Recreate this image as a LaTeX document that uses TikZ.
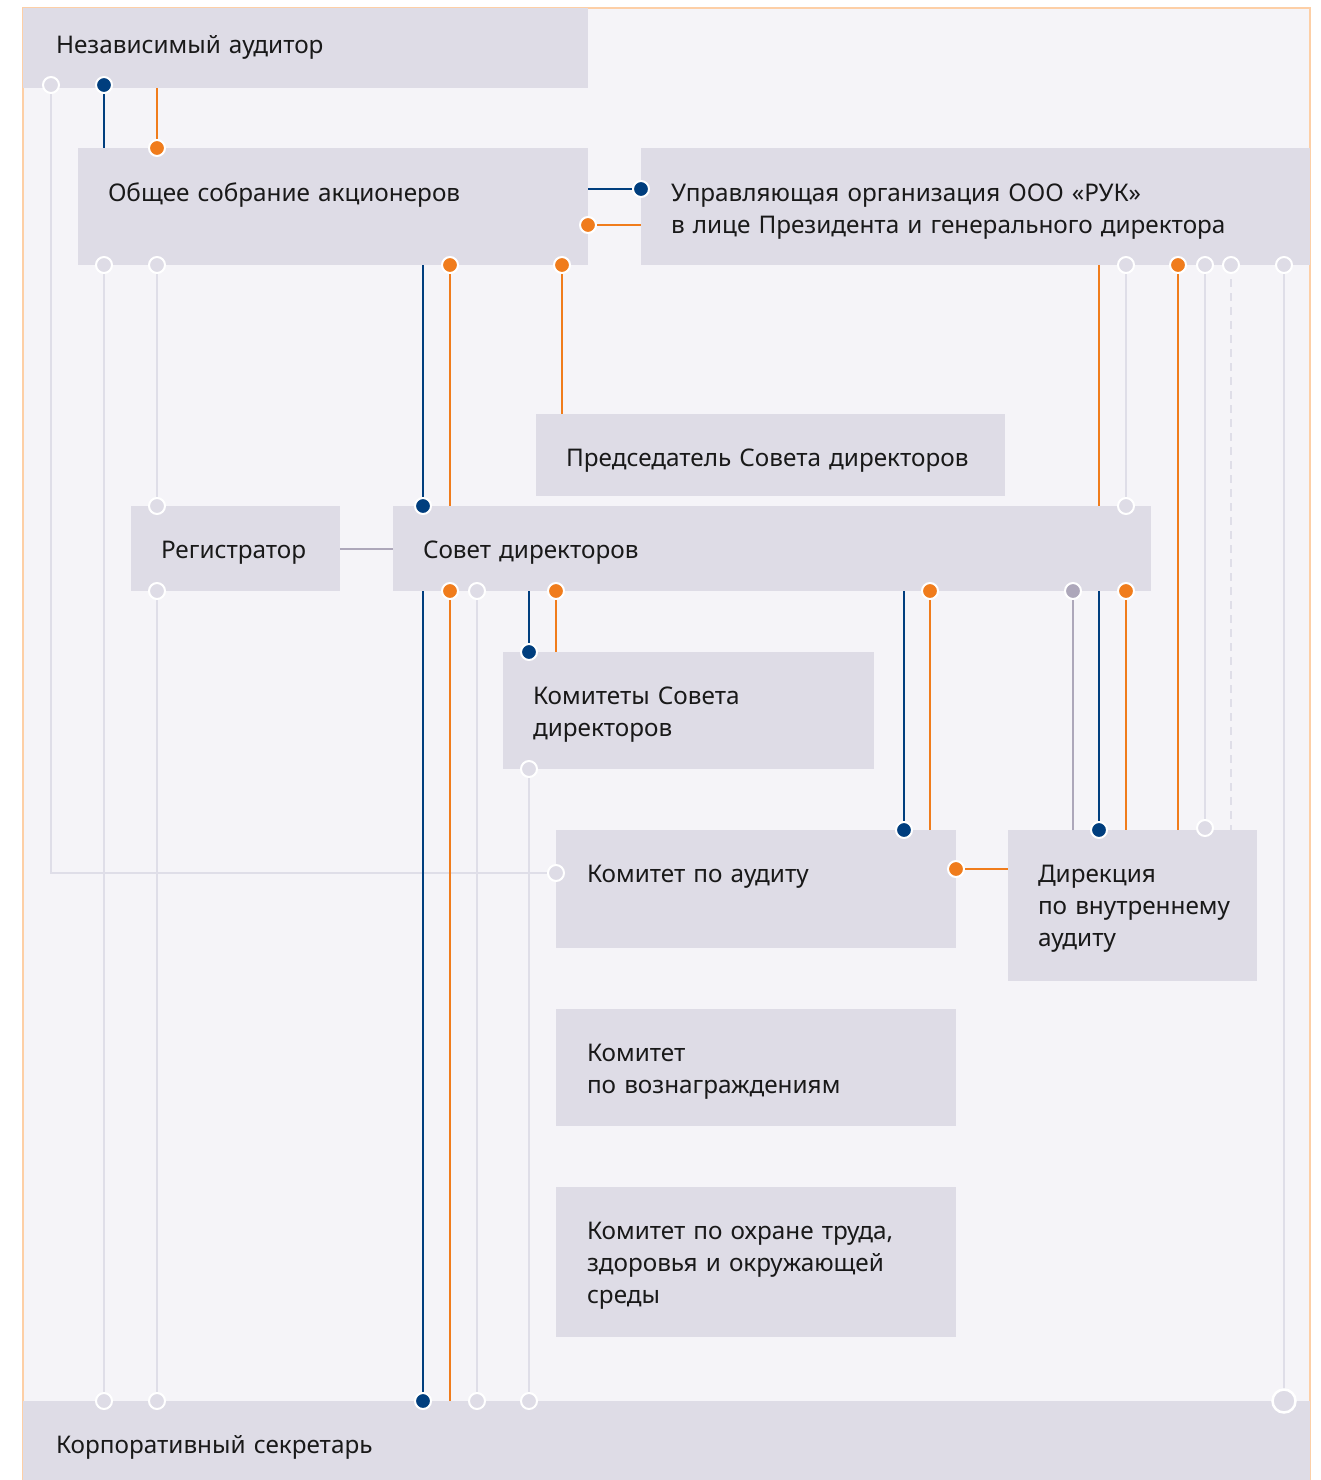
\documentclass[tikz,border=0pt]{standalone}
\usepackage{fontspec}
\setmainfont{Noto Sans}
\definecolor{cBg}{HTML}{F5F4F8}
\definecolor{cBox}{HTML}{DEDCE6}
\definecolor{cFrame}{HTML}{FDCFA6}
\definecolor{cB}{HTML}{003E7E}
\definecolor{cO}{HTML}{F07C1C}
\definecolor{cL}{HTML}{DFDEE8}
\definecolor{cP}{HTML}{ADA7BA}
\tikzset{
  box/.style={rectangle, fill=cBox, anchor=north west, inner sep=0, outer sep=0},
  lbl/.style={anchor=base west, inner sep=0, outer sep=0, text width=700pt, align=left,
    font=\fontsize{24.3}{32}\selectfont, text=black!90},
  dot/.style={circle, inner sep=0, outer sep=0, minimum size=16pt, draw=white, line width=2pt},
  dB/.style={dot, fill=cB}, dO/.style={dot, fill=cO}, dL/.style={dot, fill=cBox}, dP/.style={dot, fill=cP},
  dBig/.style={dot, fill=cBox, minimum size=23pt, line width=2.5pt},
  lB/.style={draw=cB, line width=2.5pt},
  lO/.style={draw=cO, line width=2.5pt},
  lL/.style={draw=cL, line width=2pt},
  lLd/.style={draw=cL, line width=2pt, dash pattern=on 8pt off 6pt},
  lP/.style={draw=cP, line width=2.5pt},
}
\begin{document}
\begin{tikzpicture}[x=1pt,y=-1pt]
\useasboundingbox (0,0) rectangle (1320,1480);
\fill[white] (0,0) rectangle (1320,1480);
\fill[cBg] (23,8) rectangle (1310,1480);
\draw[cFrame, line width=2pt] (23,1490) -- (23,8) -- (1310,8) -- (1310,1490);

% boxes
\node[box, minimum width=565pt, minimum height=80pt] (aud) at (23,8) {};
\node[box, minimum width=510pt, minimum height=117pt] (gms) at (78,148) {};
\node[box, minimum width=669pt, minimum height=117pt] (upr) at (641,148) {};
\node[box, minimum width=469pt, minimum height=82pt] (pred) at (536,414) {};
\node[box, minimum width=209pt, minimum height=85pt] (reg) at (131,506) {};
\node[box, minimum width=758pt, minimum height=85pt] (sov) at (393,506) {};
\node[box, minimum width=371pt, minimum height=117pt] (kom) at (503,652) {};
\node[box, minimum width=400pt, minimum height=118pt] (kau) at (556,830) {};
\node[box, minimum width=249pt, minimum height=151pt] (dir) at (1008,830) {};
\node[box, minimum width=400pt, minimum height=117pt] (kvz) at (556,1009) {};
\node[box, minimum width=400pt, minimum height=150pt] (kot) at (556,1187) {};
\node[box, minimum width=1287pt, minimum height=90pt] (sec) at (23,1401) {};

% labels
\node[lbl] (aud-t) at (56,54) {Независимый аудитор};
\node[lbl] (gms-t) at (108,201) {Общее собрание акционеров};
\node[lbl] (upr-t) at (671,201) {Управляющая организация ООО «РУК»\\в лице Президента и генерального директора};
\node[lbl] (pred-t) at (566,466) {Председатель Совета директоров};
\node[lbl] (reg-t) at (161,558) {Регистратор};
\node[lbl] (sov-t) at (423,558) {Совет директоров};
\node[lbl] (kom-t) at (533,704) {Комитеты Совета\\директоров};
\node[lbl] (kau-t) at (587,882) {Комитет по аудиту};
\node[lbl] (dir-t) at (1038,882) {Дирекция\\по внутреннему\\аудиту};
\node[lbl] (kvz-t) at (587,1061) {Комитет\\по вознаграждениям};
\node[lbl] (kot-t) at (587,1239) {Комитет по охране труда,\\здоровья и окружающей\\среды};
\node[lbl] (sec-t) at (56,1453) {Корпоративный секретарь};

% coordinates
\coordinate (a1) at (51,85);  \coordinate (a2) at (104,85); \coordinate (a3) at (157,88);
\coordinate (g1) at (104,148); \coordinate (g2) at (157,148);
\coordinate (g3) at (104,265); \coordinate (g4) at (157,265); \coordinate (g5) at (423,265);
\coordinate (g6) at (450,265); \coordinate (g7) at (562,265);
\coordinate (g8) at (588,189); \coordinate (g9) at (588,225);
\coordinate (u1) at (641,189); \coordinate (u2) at (641,225);
\coordinate (u3) at (1099,265); \coordinate (u4) at (1126,265); \coordinate (u5) at (1178,265);
\coordinate (u6) at (1205,265); \coordinate (u7) at (1231,265); \coordinate (u8) at (1284,265);
\coordinate (p1) at (562,414);
\coordinate (r1) at (157,506); \coordinate (r2) at (157,591); \coordinate (r3) at (340,549);
\coordinate (s0) at (393,549); \coordinate (s1) at (423,506); \coordinate (s2) at (450,506);
\coordinate (s3) at (1099,506); \coordinate (s4) at (1126,506);
\coordinate (s5) at (423,591); \coordinate (s6) at (450,591); \coordinate (s7) at (477,591);
\coordinate (s8) at (529,591); \coordinate (s9) at (556,591); \coordinate (s10) at (904,591);
\coordinate (s11) at (930,591); \coordinate (s12) at (1073,591); \coordinate (s13) at (1099,591);
\coordinate (s14) at (1126,591);
\coordinate (k1) at (529,652); \coordinate (k2) at (556,652); \coordinate (k3) at (529,769);
\coordinate (ka1) at (556,873); \coordinate (ka2) at (904,830); \coordinate (ka3) at (930,830);
\coordinate (ka4) at (956,869);
\coordinate (d1) at (1008,869); \coordinate (d2) at (1073,830); \coordinate (d3) at (1099,830);
\coordinate (d4) at (1126,830); \coordinate (d5) at (1178,830); \coordinate (d6) at (1205,828);
\coordinate (d7) at (1231,830);
\coordinate (c1) at (104,1401); \coordinate (c2) at (157,1401); \coordinate (c3) at (423,1401);
\coordinate (c4) at (450,1401); \coordinate (c5) at (477,1401); \coordinate (c6) at (529,1401);
\coordinate (c7) at (1284,1401);

% light connectors
\draw[lL] (a1) |- (ka1);
\draw[lL] (g3) -- (c1);
\draw[lL] (g4) -- (r1);
\draw[lL] (r2) -- (c2);
\draw[lL] (s7) -- (c5);
\draw[lL] (k3) -- (c6);
\draw[lL] (u4) -- (s4);
\draw[lL] (u6) -- (d6);
\draw[lLd] (u7) -- (d7);
\draw[lL] (u8) -- (c7);
\draw[lP] (r3) -- (s0);
\draw[lP] (s12) -- (d2);

% blue connectors
\draw[lB] (a2) -- (g1);
\draw[lB] (g8) -- (u1);
\draw[lB] (g5) -- (s1);
\draw[lB] (s5) -- (c3);
\draw[lB] (s8) -- (k1);
\draw[lB] (s10) -- (ka2);
\draw[lB] (s13) -- (d3);

% orange connectors
\draw[lO] (a3) -- (g2);
\draw[lO] (g9) -- (u2);
\draw[lO] (g6) -- (s2);
\draw[lO] (g7) -- (p1);
\draw[lO] (u3) -- (s3);
\draw[lO] (u5) -- (d5);
\draw[lO] (s6) -- (c4);
\draw[lO] (s9) -- (k2);
\draw[lO] (s11) -- (ka3);
\draw[lO] (s14) -- (d4);
\draw[lO] (ka4) -- (d1);

% dots
\foreach \p in {a1,g3,g4,u4,u6,u7,u8,r1,r2,s4,s7,k3,ka1,d6,c1,c2,c5,c6} \node[dL] at (\p) {};
\foreach \p in {a2,u1,s1,k1,ka2,d3,c3} \node[dB] at (\p) {};
\foreach \p in {g2,g6,g7,g9,u5,s6,s9,s11,s14,ka4} \node[dO] at (\p) {};
\node[dP] at (s12) {};
\node[dBig] at (c7) {};
\end{tikzpicture}
\end{document}
